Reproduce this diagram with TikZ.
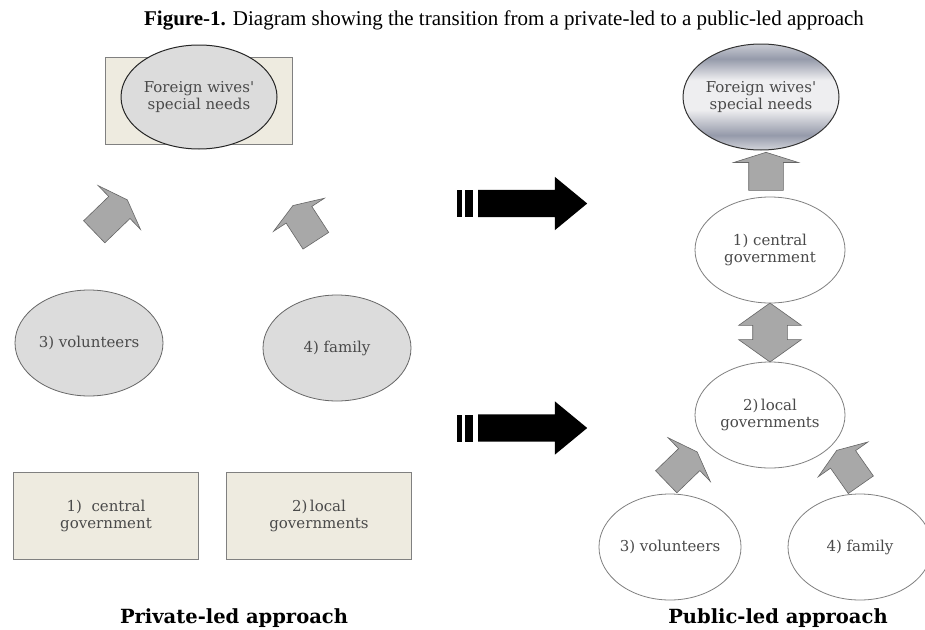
\documentclass[tikz,border=0pt]{standalone}
\usepackage{fontspec}
\setmainfont{Liberation Serif}
\newfontfamily\diagfont{DejaVu Serif}
\usetikzlibrary{shapes.geometric,shapes.arrows,calc}

\definecolor{boxfill}{HTML}{EEEBE0}
\definecolor{discfill}{HTML}{DCDCDC}
\definecolor{arrowfill}{HTML}{A8A8A8}
\definecolor{txtgray}{HTML}{4A4A4A}
\definecolor{mdark}{HTML}{6C7286}
\definecolor{mmid}{HTML}{959AAA}
\definecolor{mlight}{HTML}{EEEEF0}
\pgfdeclareverticalshading{metal}{100bp}{color(0bp)=(mdark); color(22bp)=(mlight); color(32bp)=(mmid); color(44bp)=(mlight); color(58bp)=(mlight); color(68bp)=(mmid); color(80bp)=(mlight); color(100bp)=(mdark)}

\tikzset{
  txt/.style={font=\diagfont\fontsize{15}{17}\selectfont, text=txtgray, align=center},
  disc/.style={ellipse, txt, draw=black!70, line width=0.8pt, fill=discfill, minimum width=148, minimum height=106, inner sep=0},
  whitedisc/.style={ellipse, txt, draw=black!50, line width=0.8pt, fill=white, minimum width=150, minimum height=106, inner sep=0},
  govbox/.style={rectangle, txt, draw=black!50, line width=1pt, fill=boxfill, minimum width=185, minimum height=87},
  blockarrow/.style={single arrow, anchor=tail, draw=black!60, line width=0.6pt, fill=arrowfill, inner xsep=0, inner ysep=15, minimum height=44, single arrow head extend=15, single arrow tip angle=140},
  bigarrow/.style={single arrow, anchor=tail, fill=black, inner xsep=0, inner ysep=13.5, minimum height=109, single arrow head extend=13, single arrow tip angle=79},
  approach/.style={font=\diagfont\bfseries\fontsize{19.5}{22}\selectfont, anchor=base}
}

\begin{document}
\begin{tikzpicture}[x=1pt,y=-1pt]
\clip (0,0) rectangle (925,629);
\fill[white] (0,0) rectangle (925,629);

% Title
\node[font=\fontsize{21}{24}\selectfont] (title) at (504,20) {\textbf{Figure-1.} Diagram showing the transition from a private-led to a public-led approach};

% Private-led side: needs on top of a box
\draw[draw=black!50, line width=1pt, fill=boxfill] (105,57) rectangle (292,144);
\node[disc, draw=black!85, line width=1pt, minimum height=104] (needsL) at (199,97) {Foreign wives'\\special needs};

% Private-led side: two tilted arrows
\node[blockarrow, rotate=44, minimum height=46] (arrL1) at (94,232) {};
\node[blockarrow, rotate=123, minimum height=42] (arrL2) at (316,241) {};

% Private-led side: volunteers and family
\node[disc, draw=black!60] (volL) at (89,343) {3) volunteers};
\node[disc, draw=black!60] (famL) at (337,348) {4) family};

% Private-led side: governments in boxes
\node[govbox] (centralL) at (106,516) {1)~~central\\government};
\node[govbox] (localL) at (319,516) {2)\,local\\governments};

\node[approach] (labelL) at (234,623) {Private-led approach};

% Transition arrows (black, striped tails)
\foreach \y/\n in {203.5/1,428/2}{
  \node[bigarrow] (big\n) at (478,\y) {};
  \fill (457,\y-13.5) rectangle (462,\y+13.5);
  \fill (465,\y-13.5) rectangle (473,\y+13.5);
}

% Public-led side: chain of ellipses
\node[ellipse, txt, draw=black!80, line width=1pt, shading=metal, minimum width=150, minimum height=106, inner sep=0] (needsR) at (761,97) {Foreign wives'\\special needs};
\node[whitedisc] (centralR) at (770,250) {1) central\\government};
\node[whitedisc] (localR) at (770,415) {2)\,local\\governments};
\node[whitedisc, minimum width=128] (volR) at (670,547) {3) volunteers};
\node[whitedisc, minimum width=144] (famR) at (860,547) {4) family};

% Public-led side: arrows between ellipses
\node[blockarrow, rotate=90, inner ysep=17, minimum height=38, single arrow tip angle=145] (arrUp) at ([xshift=-4pt,yshift=6pt]centralR.north) {};
\node[double arrow, draw=black!60, line width=0.6pt, fill=arrowfill, inner xsep=0, inner ysep=17, rotate=90, minimum height=59, double arrow head extend=14, double arrow tip angle=109] (arrBoth) at ($(centralR.south)!0.5!(localR.north)$) {};
\node[blockarrow, rotate=44, minimum height=43] (arrR1) at (666,482) {};
\node[blockarrow, rotate=125, minimum height=42] (arrR2) at (861,485) {};

\node[approach] (labelR) at (778,623) {Public-led approach};
\end{tikzpicture}
\end{document}
